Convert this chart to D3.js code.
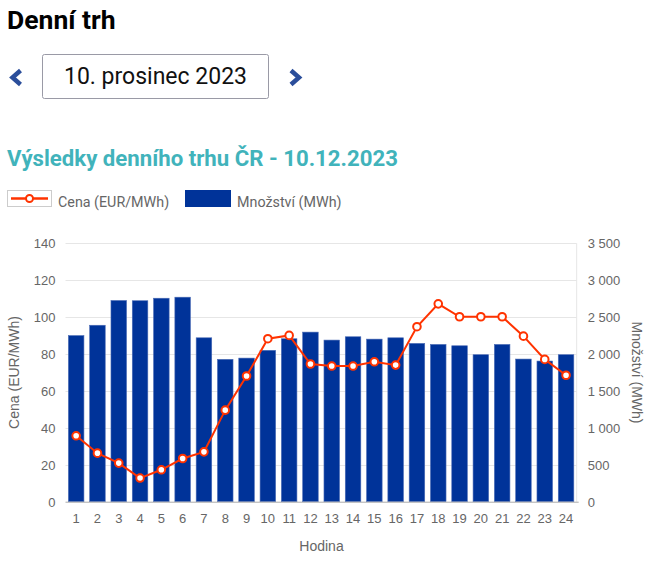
<!DOCTYPE html>
<html><head><meta charset="utf-8">
<script src="https://cdn.jsdelivr.net/npm/d3@7"></script>
<style>
body{margin:0;background:#fff;}
svg{display:block;}
</style></head>
<body>
<svg id="c" width="657" height="570"></svg>
<script>
const hours = ["1","2","3","4","5","6","7","8","9","10","11","12","13","14","15","16","17","18","19","20","21","22","23","24"];
const quantity = [2250,2390,2725,2722,2756,2770,2220,1928,1945,2050,2207,2297,2189,2234,2202,2220,2144,2130,2112,1991,2130,1932,1905,1991];
const price = [35.7,26.3,20.9,12.8,17.3,23.4,27.0,49.6,68.1,88.3,90.1,74.6,73.5,73.5,75.8,74.0,94.8,107.2,100.2,100.2,100.2,89.7,77.1,68.5];
const priceTicks = [0,20,40,60,80,100,120,140];
const qtyTicks = [0,500,1000,1500,2000,2500,3000,3500];

const svg = d3.select("#c");
const F = "Roboto, 'Liberation Sans', Arial, sans-serif";
const gray = "#666";

// Header
svg.append("text").attr("x",7).attr("y",29).text("Denní trh")
  .attr("font-family",F).attr("font-weight",700).attr("font-size",26.5).attr("fill","#000");
svg.append("rect").attr("x",42.5).attr("y",54.5).attr("width",226).attr("height",44).attr("rx",2)
  .attr("fill","#fff").attr("stroke","#9a9aa6");
svg.append("text").attr("x",155.5).attr("y",84).attr("text-anchor","middle").text("10. prosinec 2023")
  .attr("font-family",F).attr("font-size",23).attr("fill","#111");
svg.append("path").attr("d","M20.5,70.5 L12.5,77.5 L20.5,84.5").attr("fill","none").attr("stroke","#2b4e9b").attr("stroke-width",4.5);
svg.append("path").attr("d","M291,70.5 L299,77.5 L291,84.5").attr("fill","none").attr("stroke","#2b4e9b").attr("stroke-width",4.5);

svg.append("text").attr("x",7).attr("y",166).text("Výsledky denního trhu ČR - 10.12.2023")
  .attr("font-family",F).attr("font-weight",700).attr("font-size",22.2).attr("fill","#41b3bb");

// Legend
svg.append("rect").attr("x",7.5).attr("y",190.5).attr("width",44).attr("height",16).attr("fill","#fff").attr("stroke","#ccc");
svg.append("line").attr("x1",11).attr("x2",48).attr("y1",198.5).attr("y2",198.5).attr("stroke","#ff3300").attr("stroke-width",2.5);
svg.append("circle").attr("cx",29.5).attr("cy",198.5).attr("r",3.5).attr("fill","#fff").attr("stroke","#ff3300").attr("stroke-width",2);
svg.append("text").attr("x",58).attr("y",207).text("Cena (EUR/MWh)").attr("font-family",F).attr("font-size",14.3).attr("fill",gray);
svg.append("rect").attr("x",185).attr("y",190).attr("width",46).attr("height",17).attr("fill","#003399");
svg.append("text").attr("x",237).attr("y",207).text("Množství (MWh)").attr("font-family",F).attr("font-size",14.3).attr("fill",gray);

// Chart
const L = 65.5, R = 576.7, T = 243.3, B = 501.7;
const x = d3.scaleBand().domain(hours).range([L,R]).paddingInner(0.27).paddingOuter(0.135);
const yP = d3.scaleLinear().domain([0,140]).range([B,T]);
const yQ = d3.scaleLinear().domain([0,3500]).range([B,T]);

const TF = "'Liberation Sans', Arial, sans-serif";
// grid
svg.append("g").selectAll("line").data(priceTicks.slice(1)).join("line")
  .attr("x1",L).attr("x2",R).attr("y1",d=>Math.round(yP(d))+0.5).attr("y2",d=>Math.round(yP(d))+0.5)
  .attr("stroke","#e6e6e6");
svg.append("line").attr("x1",R).attr("x2",R).attr("y1",T).attr("y2",B).attr("stroke","#e6e6e6");

// bars
svg.append("g").selectAll("rect").data(quantity).join("rect")
  .attr("x",(d,i)=>x(hours[i])).attr("width",x.bandwidth())
  .attr("y",d=>yQ(d)).attr("height",d=>B-yQ(d))
  .attr("fill","#003399").attr("stroke","#4a6bb5").attr("stroke-width",0.6);

// baseline
svg.append("line").attr("x1",L).attr("x2",R+2).attr("y1",B+0.5).attr("y2",B+0.5).attr("stroke","#aaa");

// left axis
const ga = svg.append("g").attr("transform",`translate(${L-10},0)`).call(d3.axisLeft(yP).tickValues(priceTicks).tickSize(0).tickPadding(0));
ga.select(".domain").remove();
ga.selectAll("text").attr("font-family",TF).attr("font-size",13).attr("fill",gray).attr("dy","0.35em");

// right axis
const gb = svg.append("g").attr("transform",`translate(${R+11},0)`).call(d3.axisRight(yQ).tickValues(qtyTicks).tickSize(0).tickPadding(0)
  .tickFormat(d=>d3.format(",")(d).replace(/,/g," ")));
gb.select(".domain").remove();
gb.selectAll("text").attr("font-family",TF).attr("font-size",13).attr("fill",gray).attr("dy","0.35em");

// bottom axis
const gx = svg.append("g").attr("transform",`translate(0,${B+10})`).call(d3.axisBottom(x).tickSize(0).tickPadding(0));
gx.select(".domain").remove();
gx.selectAll("text").attr("font-family",TF).attr("font-size",13).attr("fill",gray).attr("dy","0.9em");

// axis titles
svg.append("text").attr("transform",`translate(19,${(T+B)/2}) rotate(-90)`).attr("text-anchor","middle")
  .text("Cena (EUR/MWh)").attr("font-family",TF).attr("font-size",14).attr("fill",gray);
svg.append("text").attr("transform",`translate(632,${(T+B)/2}) rotate(90)`).attr("text-anchor","middle")
  .text("Množství (MWh)").attr("font-family",TF).attr("font-size",14).attr("fill",gray);
svg.append("text").attr("x",321.5).attr("y",551).attr("text-anchor","middle")
  .text("Hodina").attr("font-family",TF).attr("font-size",14).attr("fill",gray);

// line
const cx = (d,i)=>x(hours[i])+x.bandwidth()/2;
svg.append("path").datum(price)
  .attr("d",d3.line().x(cx).y(d=>yP(d)))
  .attr("fill","none").attr("stroke","#ff3300").attr("stroke-width",2);
svg.append("g").selectAll("circle").data(price).join("circle")
  .attr("cx",cx).attr("cy",d=>yP(d)).attr("r",3.8)
  .attr("fill","#fff").attr("stroke","#ff3300").attr("stroke-width",2);
</script>
</body></html>
